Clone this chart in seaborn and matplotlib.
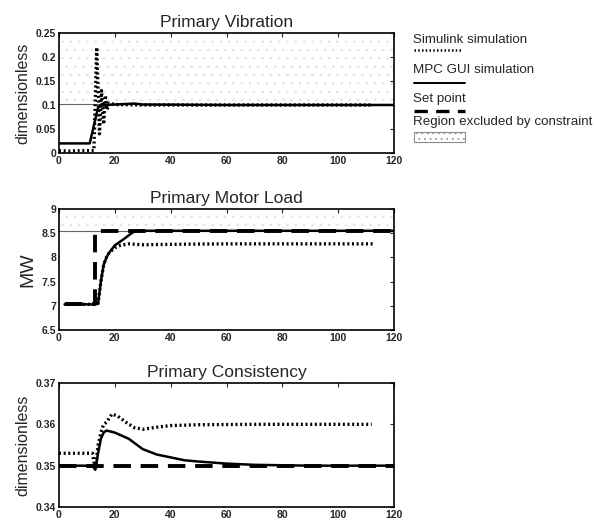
import numpy as np
import pandas as pd
import seaborn as sns
import matplotlib.pyplot as plt
from matplotlib.patches import Rectangle
from matplotlib.ticker import FormatStrFormatter

# ---- data ----
# Primary Vibration
vib_sim_t = [0, 4, 8, 12.5, 13.5, 14.5, 15.2, 16, 16.6, 17.2, 18, 20, 30, 60, 90, 112]
vib_sim_y = [0.005, 0.004, 0.005, 0.005, 0.22, 0.04, 0.13, 0.06, 0.12, 0.09, 0.104, 0.101, 0.1, 0.1, 0.1, 0.1]
vib_gui_t = [0, 5, 11, 14, 16, 20, 27, 30, 60, 90, 120]
vib_gui_y = [0.02, 0.02, 0.02, 0.095, 0.1, 0.101, 0.103, 0.101, 0.1, 0.1, 0.1]
vib_limit = 0.103

# Primary Motor Load (MW)
load_sim_t = [2, 13, 14, 15, 16, 17, 18, 20, 22, 25, 30, 40, 60, 80, 100, 113]
load_sim_y = [7.03, 7.03, 7.05, 7.5, 7.85, 8.0, 8.1, 8.2, 8.25, 8.28, 8.26, 8.27, 8.28, 8.28, 8.28, 8.28]
load_gui_t = [2, 13, 14, 15, 16, 17, 18, 20, 23, 26, 27.5, 30, 60, 90, 120]
load_gui_y = [7.03, 7.03, 7.05, 7.5, 7.85, 8.0, 8.1, 8.25, 8.37, 8.5, 8.55, 8.55, 8.55, 8.55, 8.55]
load_sp_t = [2, 13, 13, 120]
load_sp_y = [7.03, 7.03, 8.55, 8.55]
load_limit = 8.55

# Primary Consistency
cons_sim_t = [0, 12, 13, 14, 15, 16, 17, 19, 21, 24, 27, 30, 35, 40, 50, 70, 90, 112]
cons_sim_y = [0.353, 0.353, 0.349, 0.355, 0.358, 0.360, 0.3605, 0.3625, 0.362, 0.3605, 0.3592, 0.3588, 0.3593, 0.3597, 0.3599, 0.36, 0.36, 0.36]
cons_gui_t = [0, 12, 13, 14, 15, 16, 17, 20, 25, 30, 35, 40, 45, 50, 60, 70, 90, 120]
cons_gui_y = [0.35, 0.35, 0.349, 0.353, 0.3565, 0.358, 0.3585, 0.358, 0.3565, 0.354, 0.3527, 0.352, 0.3513, 0.351, 0.3505, 0.3502, 0.35, 0.35]
cons_sp_t = [0, 120]
cons_sp_y = [0.35, 0.35]

titles = ["Primary Vibration", "Primary Motor Load", "Primary Consistency"]
ylabels = ["dimensionless", "MW", "dimensionless"]
legend_labels = ["Simulink simulation", "MPC GUI simulation", "Set point",
                 "Region excluded by constraint"]

sns.set_style("white")
plt.rcParams['font.family'] = ['Liberation Sans', 'DejaVu Sans']
plt.rcParams['xtick.direction'] = 'in'
plt.rcParams['ytick.direction'] = 'in'
plt.rcParams['hatch.linewidth'] = 0.5

W, H = 594, 523
fig = plt.figure(figsize=(W / 100, H / 100), dpi=100)

def box(x0, y0, x1, y1):
  return [x0 / W, 1 - y1 / H, (x1 - x0) / W, (y1 - y0) / H]

ax1 = fig.add_axes(box(59, 33, 394, 153))
ax2 = fig.add_axes(box(59, 209, 394, 330))
ax3 = fig.add_axes(box(59, 383, 394, 507))

def series(t, y):
  return pd.DataFrame({"t": t, "y": y})

dot_kw = dict(color="black", linewidth=2.4, linestyle=(0, (0.6, 0.8)), estimator=None, sort=False)
solid_kw = dict(color="black", linewidth=1.8, estimator=None, sort=False)
dash_kw = dict(color="black", linewidth=2.8, linestyle=(0, (4.5, 2.5)), estimator=None, sort=False)

def region(ax, lo, hi):
  ax.fill_between([0, 120], [lo, lo], [hi, hi], facecolor="none",
                  hatch="..", edgecolor="0.88", linewidth=0)
  ax.plot([0, 120], [lo, lo], color="0.4", linewidth=0.8)

# top
region(ax1, vib_limit, 0.25)
sns.lineplot(data=series(vib_gui_t, vib_gui_y), x="t", y="y", ax=ax1, **solid_kw)
sns.lineplot(data=series(vib_sim_t, vib_sim_y), x="t", y="y", ax=ax1, **dot_kw)
ax1.set_ylim(0, 0.25)
ax1.set_yticks([0, 0.05, 0.1, 0.15, 0.2, 0.25])

# middle
region(ax2, load_limit, 9)
sns.lineplot(data=series(load_sp_t, load_sp_y), x="t", y="y", ax=ax2, **dash_kw)
sns.lineplot(data=series(load_gui_t, load_gui_y), x="t", y="y", ax=ax2, **solid_kw)
sns.lineplot(data=series(load_sim_t, load_sim_y), x="t", y="y", ax=ax2, **dot_kw)
ax2.set_ylim(6.5, 9)
ax2.set_yticks([6.5, 7, 7.5, 8, 8.5, 9])

# bottom
sns.lineplot(data=series(cons_sp_t, cons_sp_y), x="t", y="y", ax=ax3, **dash_kw)
sns.lineplot(data=series(cons_gui_t, cons_gui_y), x="t", y="y", ax=ax3, **solid_kw)
sns.lineplot(data=series(cons_sim_t, cons_sim_y), x="t", y="y", ax=ax3, **dot_kw)
ax3.set_ylim(0.34, 0.37)
ax3.set_yticks([0.34, 0.35, 0.36, 0.37])

for ax, title, yl in zip([ax1, ax2, ax3], titles, ylabels):
  ax.set_xlim(0, 120)
  ax.set_xticks([0, 20, 40, 60, 80, 100, 120])
  ax.set_title(title, fontsize=12.5, pad=4)
  ax.set_xlabel("")
  ax.set_ylabel(yl, fontsize=11.5, labelpad=4)
  ax.yaxis.set_major_formatter(FormatStrFormatter("%g"))
  ax.tick_params(labelsize=7.5, length=3, width=0.8, top=True, right=True, pad=2)
  for lab in ax.get_xticklabels() + ax.get_yticklabels():
    lab.set_fontweight("bold")
  for s in ax.spines.values():
    s.set_visible(True)
    s.set_color("black")
    s.set_linewidth(1.2)
ax2.yaxis.label.set_size(14)

# legend drawn in its own pixel-space axes
lg = fig.add_axes(box(405, 28, 594, 150))
lg.set_xlim(405, 594)
lg.set_ylim(150, 28)
lg.axis("off")
text_y = [40, 70, 99, 122]
for yy, lab in zip(text_y, legend_labels):
  lg.text(413, yy, lab, fontsize=9.6, va="center", ha="left")
lg.plot([414, 462], [50, 50], color="black", linewidth=1.8, linestyle=(0, (0.6, 0.9)))
lg.plot([414, 465], [83, 83], color="black", linewidth=1.4)
lg.plot([414, 465], [111, 111], color="black", linewidth=2.4, linestyle=(0, (4, 2.5)))
lg.add_patch(Rectangle((414, 132), 51, 10, facecolor="none", hatch="...",
                       edgecolor="0.55", linewidth=0.8))

fig.savefig("out.png", dpi=100)
